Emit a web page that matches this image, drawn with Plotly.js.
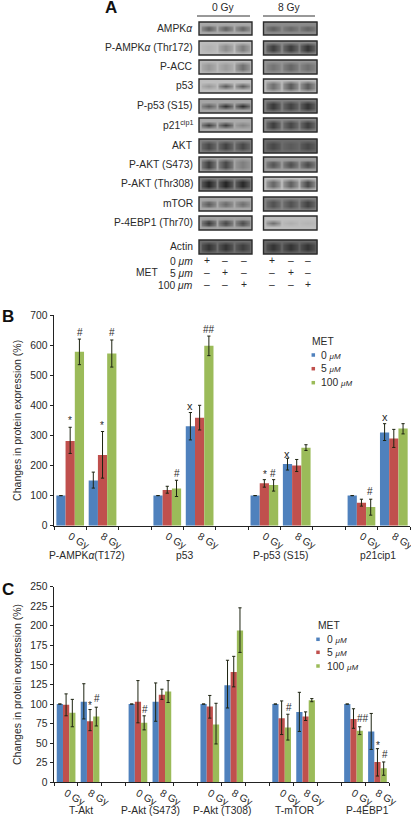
<!DOCTYPE html>
<html><head><meta charset="utf-8">
<script src="https://cdn.plot.ly/plotly-3.0.0.min.js"></script>
<style>html,body{margin:0;padding:0;background:#fff}#c{width:411px;height:816px}</style>
</head><body><div id="c"></div>
<script>
const W = 411, H = 816;
const FONT = '"Liberation Sans", Arial, sans-serif';
const INK = '#2a2a2a';
const BLUE = '#4F81BD', RED = '#C0504D', GREEN = '#9BBB59';

// Panel B
const catsB = ['0 Gy','8 Gy',' ','0 Gy ','8 Gy ','  ','0 Gy  ','8 Gy  ','   ','0 Gy   ','8 Gy   '];
const xB = ['0 Gy','8 Gy','0 Gy ','8 Gy ','0 Gy  ','8 Gy  ','0 Gy   ','8 Gy   '];
const groupsB = ['P-AMPK<i>α</i>(T172)','p53','P-p53 (S15)','p21cip1'];
const blueB  = [100,150,100,330,100,205,100,310];
const blueBp = [0,28,0,46,0,19,0,29];
const blueBm = [0,25,0,45,0,20,0,27];
const redB   = [281,235,119,359,141,200,76,290];
const redBp  = [46,78,12,41,12,20,12,30];
const redBm  = [41,77,11,41,13,20,11,30];
const greenB  = [578,572,124,598,135,259,62,323];
const greenBp = [42,45,27,32,18,10,26,16];
const greenBm = [43,45,27,33,20,9,27,18];

// Panel C
const catsC = ['0 Gy','8 Gy',' ','0 Gy ','8 Gy ','  ','0 Gy  ','8 Gy  ','   ','0 Gy   ','8 Gy   ','    ','0 Gy    ','8 Gy    '];
const xC = ['0 Gy','8 Gy','0 Gy ','8 Gy ','0 Gy  ','8 Gy  ','0 Gy   ','8 Gy   ','0 Gy    ','8 Gy    '];
const groupsC = ['T-Akt','P-Akt (S473)','P-Akt (T308)','T-mTOR','P-4EBP1'];
const blueC  = [100,103,100,103,100,124,100,90,100,65];
const blueCp = [0,23,0,24,0,32,0,25,0,23];
const blueCm = [0,22,0,25,0,29,0,25,0,23];
const redC   = [99,78,103,112,97,141,82,84,81,26];
const redCp  = [14,15,27,7,14,20,22,6,13,17];
const redCm  = [14,12,27,6,15,19,21,5,12,18];
const greenC  = [89,84,76,116,74,194,70,105,66,18];
const greenCp = [17,12,9,14,27,29,17,2,5,8];
const greenCm = [18,12,9,14,25,28,16,2,5,9];

// Panel A: blot labels and grey levels (0-255)
const blotLabels = ['AMPK<i>α</i>','P-AMPK<i>α</i> (Thr172)','P-ACC','p53','P-p53 (S15)','p21<sup>cip1</sup>','AKT','P-AKT (S473)','P-AKT (Thr308)','mTOR','P-4EBP1 (Thr70)','Actin'];
const blotTop = [22,41,60,79,99,118,139,157,177,197,216,240];
const blotBot = [35,55,74,93,113,132,153,172,191,211,230,254];
const bgLeft  = [170,190,185,190,165,170,130,165,130,170,165,110];
const bgRight = [140,140,150,190,130,140,110,160,195,135,190,105];
const lanesLeft  = [[85,90,95],[178,140,125],[150,155,110],[150,90,90],[90,50,45],[60,60,130],[70,65,70],[60,70,125],[35,35,40],[90,105,110],[55,70,75],[50,50,60]];
const lanesRight = [[90,100,95],[60,60,50],[115,100,110],[110,90,90],[55,65,50],[60,70,60],[70,90,70],[80,75,70],[100,95,70],[80,80,65],[110,175,180],[50,50,50]];
const bandLeft  = [1,2,2,0,0,0,2,2,2,1,1,2];
const bandRight = [1,2,2,2,2,2,2,1,2,2,0,2];
const signRows = ['0 <i>μm</i>','5 <i>μm</i>','100 <i>μm</i>'];
const signs = [['+','–','–'],['–','+','–'],['–','–','+']];

// Significance marks: text, x px, y px
const marks = [
  ['#',80,332.7],['#',111.7,332.7],['*',70,420],['*',102.3,425],['x',190.3,405.5],['#',177.3,473],['##',209.3,329],
  ['*',265,474],['#',273.3,473],['x',287.3,453.5],['#',370,491.7],['x',384.7,416.5],
  ['*',90.3,705],['#',97.3,698.3],['#',144.7,709.3],['#',288.7,707.3],['##',362.7,718.7],['*',377.7,745],['#',384.7,754.7]
];

// Pixel-mapped layout helpers
const px = x => x / W;
const py = y => 1 - y / H;
const annotations = [], shapes = [], traces = [];
function text(s, x, y, o = {}) {
  annotations.push(Object.assign({
    text: s, x, y, xref: 'x3', yref: 'y3', showarrow: false, borderpad: 0,
    xanchor: 'center', yanchor: 'middle', font: {family: FONT, size: 10.3, color: INK}
  }, o));
}
const right = {xanchor: 'right'}, left = {xanchor: 'left'};

// --- Panel A heatmap blots ---
const bandProfile = [
  [0,0,.55,1,.55,0,0],
  [0,.12,.8,1,.8,.12,0],
  [0,.55,1,1,1,.55,0]
];
const laneEdges = [0,.05,.3,.37,.63,.7,.95,1];
function blot(x0, x1, row, bg, lanes, band) {
  const t = blotTop[row], b = blotBot[row];
  const ye = [0,1,2,3,4,5,6,7].map(i => t + (b - t) * i / 7);
  const xe = laneEdges.map(f => x0 + (x1 - x0) * f);
  const z = bandProfile[band].map(p => {
    const m = l => bg + (l - bg) * p;
    return [bg, m(lanes[0]), bg, m(lanes[1]), bg, m(lanes[2]), bg];
  });
  traces.push({type: 'heatmap', x: xe, y: ye, z, xaxis: 'x3', yaxis: 'y3', zsmooth: 'best',
    zmin: 0, zmax: 255, showscale: false, hoverinfo: 'skip',
    colorscale: [[0,'#000000'],[1,'#ffffff']]});
  shapes.push({type: 'rect', xref: 'x3', yref: 'y3', x0, x1, y0: t, y1: b,
    line: {color: '#2b2b2b', width: 1.4}, fillcolor: 'rgba(0,0,0,0)'});
}
blotLabels.forEach((lab, i) => {
  blot(199, 252, i, bgLeft[i], lanesLeft[i], bandLeft[i]);
  blot(263.5, 317, i, bgRight[i], lanesRight[i], bandRight[i]);
  text(lab, 193.5, (blotTop[i] + blotBot[i]) / 2 - 0.5, right);
});
text('A', 111, 7, {font: {family: FONT, size: 17, color: '#111'}, text: '<b>A</b>'});
text('0 Gy', 223, 7); text('8 Gy', 289, 7);
[[197,250],[263,315]].forEach(([a,b]) => shapes.push({type:'line',xref:'x3',yref:'y3',x0:a,x1:b,y0:16,y1:16,line:{color:'#333',width:1}}));
const signY = [261,273,285];
const signX = [207,225,244,272,291,308];
signRows.forEach((s, r) => {
  text(s, 193.5, signY[r], right);
  signX.forEach((x, c) => text(signs[r][c % 3], x, signY[r] - 0.5));
});
text('MET', 147, 272);

// --- Bars ---
function bars(name, color, x, y, plus, minus, xa, ya, offset, width) {
  traces.push({type: 'bar', name, x, y, xaxis: xa, yaxis: ya, offset, width, showlegend: false,
    marker: {color, line: {width: 0}},
    error_y: {type: 'data', symmetric: false, array: plus, arrayminus: minus, color: '#1e2412', thickness: 1, width: 1.6}});
}
[[ 'b', BLUE, blueB, blueBp, blueBm, -.428],[ 'r', RED, redB, redBp, redBm, -.143],[ 'g', GREEN, greenB, greenBp, greenBm, .143]]
  .forEach(s => bars(s[0], s[1], xB, s[2], s[3], s[4], 'x', 'y', s[5], .285));
[[ 'b', BLUE, blueC, blueCp, blueCm, -.385],[ 'r', RED, redC, redCp, redCm, -.125],[ 'g', GREEN, greenC, greenCp, greenCm, .135]]
  .forEach(s => bars(s[0], s[1], xC, s[2], s[3], s[4], 'x2', 'y2', s[5], .26));

marks.forEach(m => text(m[0], m[1], m[2], {font: {family: FONT, size: m[0] === 'x' ? 11 : 10, color: INK}}));

// Group labels
const groupXB = [87,184,281,378];
groupsB.forEach((g, i) => text(g, groupXB[i], 555.7));
const groupXC = [81,150,221.7,294.3,367.7];
groupsC.forEach((g, i) => text(g, groupXC[i], 810));

// Panel letters
text('<b>B</b>', 0.5, 316.5, {xanchor: 'left', font: {family: FONT, size: 17, color: '#111'}});
text('<b>C</b>', 0.5, 589, {xanchor: 'left', font: {family: FONT, size: 17, color: '#111'}});

// Legends
const legendLabels = ['0 <span style="font-size:8px"><i>μM</i></span>','5 <span style="font-size:8px"><i>μM</i></span>','100 <span style="font-size:8px"><i>μM</i></span>'];
const legendColors = [BLUE, RED, GREEN];
function legend(titleX, titleY, markX, textX, ys) {
  text('MET', titleX, titleY, left);
  traces.push({type: 'scatter', mode: 'markers', x: ys.map(() => markX), y: ys, xaxis: 'x3', yaxis: 'y3',
    hoverinfo: 'skip', showlegend: false, marker: {symbol: 'square', size: 3.5, color: legendColors}});
  ys.forEach((y, i) => text(legendLabels[i], textX, y, left));
}
legend(310.5, 341.7, 313.3, 320, [355,368.7,382.7]);
legend(316.5, 625.7, 318, 326, [639.3,652.3,666]);

const baseAxis = {
  showgrid: false, zeroline: false, showline: true, linecolor: '#222', linewidth: 1, ticks: 'outside',
  ticklen: 3, tickcolor: '#222', tickfont: {family: FONT, size: 10.3, color: INK}, fixedrange: true
};
const layout = {
  width: W, height: H, margin: {l: 0, r: 0, t: 0, b: 0, pad: 0}, autosize: false,
  paper_bgcolor: '#fff', plot_bgcolor: 'rgba(0,0,0,0)', showlegend: false, barmode: 'overlay',
  xaxis: Object.assign({}, baseAxis, {type: 'category', categoryorder: 'array', categoryarray: catsB,
    range: [-.5, 10.5], domain: [px(54), px(410)], tickson: 'boundaries', tickmode: 'linear', tick0: 0, dtick: 1, anchor: 'y'}),
  yaxis: Object.assign({}, baseAxis, {range: [0, 700], domain: [py(525.7), py(315)], tickmode: 'linear', tick0: 0, dtick: 100, anchor: 'x',
    linewidth: 1.4, title: {text: 'Changes in protein expression (%)', standoff: 6, font: {family: FONT, size: 10.5, color: INK}}}),
  xaxis2: Object.assign({}, baseAxis, {type: 'category', categoryorder: 'array', categoryarray: catsC,
    range: [-.5, 13.5], domain: [px(54), px(389.3)], tickson: 'boundaries', tickmode: 'linear', tick0: 0, dtick: 1, anchor: 'y2'}),
  yaxis2: Object.assign({}, baseAxis, {range: [0, 250], domain: [py(782.3), py(586.7)], tickmode: 'linear', tick0: 0, dtick: 25, anchor: 'x2',
    linewidth: 1.4, title: {text: 'Changes in protein expression (%)', standoff: 6, font: {family: FONT, size: 10.5, color: INK}}}),
  xaxis3: {range: [0, W], domain: [0, 1], visible: false, fixedrange: true, anchor: 'y3'},
  yaxis3: {range: [H, 0], domain: [0, 1], visible: false, fixedrange: true, anchor: 'x3'},
  annotations, shapes
};
Plotly.newPlot('c', traces, layout, {displayModeBar: false, staticPlot: true});
</script></body></html>
